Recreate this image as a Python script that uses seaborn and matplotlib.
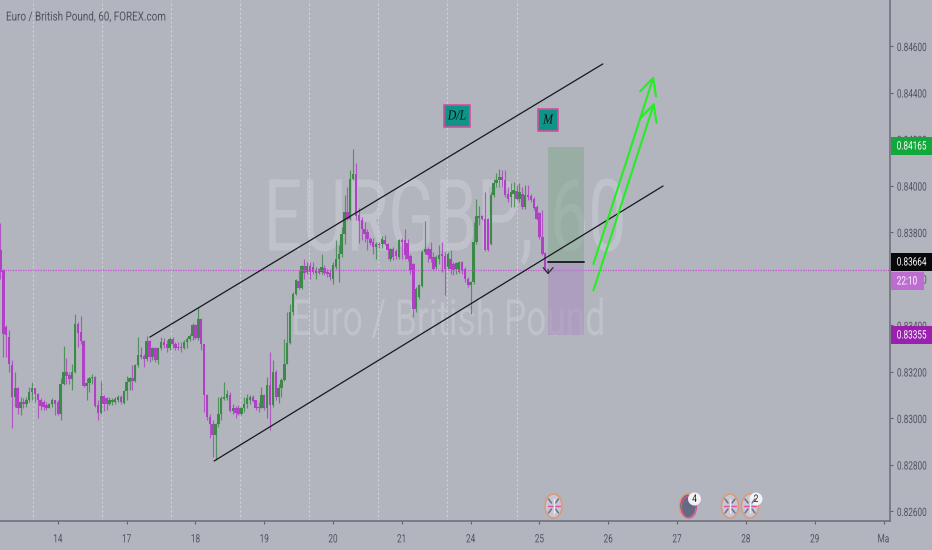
import numpy as np
import pandas as pd
import matplotlib
matplotlib.use('Agg')
import matplotlib.pyplot as plt
from matplotlib.patches import Ellipse, Rectangle, Circle
from matplotlib.patheffects import AbstractPathEffect
from matplotlib.transforms import Affine2D
import seaborn as sns

# hourly bars, prices in points (1e-5)
opens = [83722,83636,83392,83349,83227,83091,83127,83041,83069,83059,
         83077,83112,83127,83105,83077,83069,83055,83045,83059,83077,
         83069,83019,83145,83199,83184,83166,83199,83406,83371,83332,
         83137,83151,83170,83177,83055,83022,83094,83084,83062,83069,
         83069,83079,83091,83065,83117,83155,83170,83160,83227,83270,
         83266,83252,83330,83263,83299,83249,83302,83328,83320,83299,
         83338,83320,83306,83306,83299,83328,83338,83352,83399,83342,
         83425,83318,83098,83005,82976,82926,82976,83019,83081,83084,
         83098,83031,83045,83041,83019,83041,83062,83077,83091,83077,
         83048,83045,83098,83045,83141,83055,83199,83091,83127,83163,
         83234,83323,83457,83535,83590,83561,83653,83629,83653,83650,
         83624,83639,83629,83647,83629,83624,83600,83650,83686,83705,
         83793,83887,83854,84030,84049,83872,83851,83815,83801,83772,
         83758,83736,83750,83748,83765,83750,83682,83725,83719,83693,
         83765,83765,83753,83696,83664,83467,83521,83567,83715,83729,
         83725,83693,83650,83686,83705,83696,83650,83686,83664,83639,
         83629,83672,83643,83600,83571,83586,83758,83862,83868,83858,
         83858,83750,83958,84009,84023,84037,84023,83965,83951,83965,
         83977,83944,83965,83908,83958,83954,83944,83908,83880,83779,83710]
highs = [83839,83643,83399,83378,83249,83199,83134,83091,83084,83091,
         83134,83155,83131,83108,83084,83077,83069,83065,83084,83079,
         83077,83170,83309,83260,83199,83231,83447,83414,83438,83335,
         83170,83177,83188,83180,83077,83158,83098,83091,83091,83084,
         83091,83098,83098,83120,83180,83177,83227,83234,83349,83306,
         83277,83352,83335,83306,83306,83306,83349,83346,83335,83349,
         83349,83328,83328,83328,83335,83349,83363,83409,83404,83478,
         83432,83320,83105,83019,82991,82979,83091,83094,83155,83120,
         83112,83062,83051,83055,83048,83091,83105,83098,83098,83079,
         83069,83134,83105,83177,83285,83249,83206,83148,83170,83338,
         83457,83492,83543,83596,83636,83657,83682,83672,83672,83672,
         83650,83647,83707,83657,83643,83643,83672,83765,83743,83822,
         83958,83994,84066,84159,84097,83905,83865,83844,83815,83779,
         83776,83758,83758,83782,83786,83753,83733,83736,83729,83772,
         83776,83812,83772,83705,83667,83564,83578,83722,83848,83736,
         83758,83715,83700,83743,83758,83715,83715,83722,83672,83672,
         83674,83674,83650,83607,83590,83844,83940,83911,83872,83973,
         83862,83973,84030,84052,84073,84066,84066,83994,84009,84016,
         84001,84011,83994,84001,84001,83965,83951,83915,83887,83894,83715]
lows = [83600,83263,83263,83199,82955,83048,83019,83012,83041,83048,
        83069,83077,83069,83002,83034,83036,83036,83041,83048,83012,
        83012,82991,83141,83148,83145,83120,83194,83306,83320,83134,
        83077,83112,83148,83048,82991,83019,83031,83034,83055,83055,
        83062,83069,83059,83062,83079,83120,83120,83155,83220,83252,
        83220,83246,83242,83249,83242,83231,83292,83299,83285,83292,
        83299,83292,83292,83285,83295,83299,83332,83335,83338,83335,
        83292,83026,82991,82912,82833,82818,82962,82991,83077,83077,
        83026,83019,82998,83012,83012,83026,83041,83062,83069,83036,
        83026,83041,83036,82998,82948,83048,83077,83065,83091,83160,
        83231,83320,83442,83528,83553,83557,83600,83621,83600,83621,
        83600,83618,83618,83614,83607,83593,83576,83643,83586,83693,
        83750,83851,83851,84023,83851,83753,83765,83758,83722,83743,
        83707,83686,83733,83733,83743,83682,83676,83679,83686,83686,
        83682,83686,83676,83621,83435,83456,83514,83564,83707,83672,
        83672,83636,83643,83664,83629,83528,83643,83621,83614,83621,
        83624,83621,83586,83564,83446,83578,83750,83829,83851,83719,
        83719,83743,83951,83994,83994,83994,83951,83930,83908,83908,
        83937,83930,83901,83901,83937,83930,83894,83851,83772,83700,83633]
closes = [83629,83363,83356,83234,83091,83127,83041,83069,83059,83077,
          83112,83127,83105,83077,83051,83048,83045,83059,83077,83062,
          83019,83145,83199,83180,83166,83199,83406,83366,83332,83137,
          83151,83170,83177,83051,83022,83094,83062,83059,83079,83079,
          83081,83091,83069,83117,83155,83170,83160,83227,83270,83263,
          83252,83330,83263,83299,83249,83302,83328,83313,83299,83338,
          83318,83303,83303,83299,83328,83338,83352,83399,83342,83425,
          83318,83098,83005,82976,82926,82976,83019,83084,83091,83102,
          83031,83045,83022,83019,83041,83062,83088,83091,83074,83045,
          83041,83098,83045,83141,83055,83199,83091,83127,83163,83234,
          83323,83457,83535,83593,83561,83653,83624,83653,83629,83629,
          83636,83624,83650,83624,83618,83607,83657,83686,83707,83793,
          83887,83854,84030,84049,83868,83848,83811,83793,83768,83753,
          83736,83750,83743,83768,83748,83722,83725,83693,83696,83765,
          83758,83700,83686,83636,83467,83557,83571,83715,83729,83700,
          83686,83643,83693,83700,83696,83643,83707,83643,83636,83667,
          83672,83636,83600,83571,83586,83758,83868,83868,83858,83722,
          83722,83958,84009,84023,84037,84023,83958,83944,83973,83980,
          83944,83973,83908,83958,83951,83937,83905,83858,83779,83707,83636]

day_labels = ['14', '17', '18', '19', '20', '21', '24', '25', '26', '27', '28', '29', 'Ma']
day_bars = [20, 44, 68, 92, 116, 140, 164, 188, 212, 236, 260, 284, 308]
session_bars = [11.5, 35.5, 59.5, 83.5, 107.5, 131.5, 155.7, 180]
price_ticks = [0.846, 0.844, 0.842, 0.84, 0.838, 0.836, 0.834, 0.832, 0.83, 0.828, 0.826]

upper_x, upper_y = [52.1, 210.1], [0.83348, 0.84523]
lower_x, lower_y = [74.5, 231.1], [0.82815, 0.83998]
arrow_a_x, arrow_a_y = [206.8, 227.9], [0.83662, 0.84472]
arrow_b_x, arrow_b_y = [206.8, 228.1], [0.83548, 0.84358]
last_price = 0.83637
entry_price, target_price, stop_price = 0.83671, 0.84165, 0.83355
zone_x = [190.9, 203.6]

BG = '#b2b5be'
GREEN = '#3c8a48'
PURPLE = '#b040c4'
TEXT = '#50535e'
NARROW = 0.71


class Squeeze(AbstractPathEffect):
    # the tagged font is much narrower than anything installed
    def __init__(self, sx, anchor=0.5):
        super().__init__()
        self.sx = sx
        self.anchor = anchor

    def draw_path(self, renderer, gc, tpath, affine, rgbFace=None):
        mid = tpath.get_extents().x1 * self.anchor
        squeeze = Affine2D().translate(-mid, 0).scale(self.sx, 1).translate(mid, 0)
        renderer.draw_path(gc, tpath, squeeze + affine, rgbFace)


sns.set_theme(style='white', rc={'axes.facecolor': BG, 'figure.facecolor': BG})
plt.rcParams['font.family'] = ['Roboto', 'DejaVu Sans']

df = pd.DataFrame({'bar': np.arange(len(opens)), 'open': opens, 'high': highs,
                   'low': lows, 'close': closes})
df[['open', 'high', 'low', 'close']] = df[['open', 'high', 'low', 'close']] / 1e5
df['body'] = (df['close'] - df['open']).abs().clip(lower=0.00002)
df['bottom'] = df[['open', 'close']].min(axis=1)
up = df[df['close'] >= df['open']]
down = df[df['close'] < df['open']]

fig = plt.figure(figsize=(9.32, 5.5), dpi=100)
ax = fig.add_axes([0, 29 / 550, 890 / 932, 521 / 550])

ax.text(446 / 890, 1 - 223 / 521, 'EURGBP, 60', transform=ax.transAxes, ha='center', va='center',
        fontsize=72, color='#bfc2ca', zorder=0.5, path_effects=[Squeeze(0.68)])
ax.text(449 / 890, 1 - 321 / 521, 'Euro / British Pound', transform=ax.transAxes, ha='center', va='center',
        fontsize=36, color='#bfc2ca', zorder=0.5, path_effects=[Squeeze(0.706)])

for b in session_bars:
    ax.axvline(b, color='#cfd1d8', lw=0.8, ls=(0, (2, 2)), zorder=1)

for part, col in [(up, GREEN), (down, PURPLE)]:
    ax.vlines(part['bar'], part['low'], part['high'], color=col, lw=0.85, alpha=0.8, zorder=3)
    sns.barplot(x=part['bar'].to_numpy(), y=part['body'].to_numpy(), bottom=part['bottom'].to_numpy(),
                native_scale=True, width=0.85, color=col, saturation=1, errorbar=None,
                linewidth=0, ax=ax, zorder=4)

ax.axhline(last_price, color='#c94fd8', lw=0.9, ls=(0, (1, 1)), zorder=5)

ax.add_patch(Rectangle((zone_x[0], entry_price), zone_x[1] - zone_x[0], target_price - entry_price,
                       color='#7fa88e', alpha=0.5, lw=0, zorder=5))
ax.add_patch(Rectangle((zone_x[0], stop_price), zone_x[1] - zone_x[0], entry_price - stop_price,
                       color='#a98abf', alpha=0.55, lw=0, zorder=5))
sns.lineplot(x=zone_x, y=[entry_price, entry_price], color='#16171a', lw=1.3, ax=ax, zorder=6)

for xs, ys in [(upper_x, upper_y), (lower_x, lower_y)]:
    sns.lineplot(x=xs, y=ys, color='#17181c', lw=0.9, estimator=None, ax=ax, zorder=6)
for xs, ys in [(arrow_a_x, arrow_a_y), (arrow_b_x, arrow_b_y)]:
    ax.annotate('', xy=(xs[1], ys[1]), xytext=(xs[0], ys[0]), zorder=7,
                arrowprops=dict(arrowstyle='->,head_length=1.0,head_width=0.5', color='#22ee22', lw=1.5,
                                shrinkA=0, shrinkB=0))
ax.annotate('', xy=(191, 0.83618), xytext=(191, 0.83640), zorder=7,
            arrowprops=dict(arrowstyle='->,head_length=0.35,head_width=0.3', color='#222', lw=0.8,
                            shrinkA=0, shrinkB=0))

ax.set_xlim(-0.174, 310.26)
ax.set_ylim(0.82557, 0.84798)
ax.grid(False)
ax.set_xlabel('')
ax.set_ylabel('')
ax.set_xticks(day_bars)
ax.set_xticklabels(day_labels, fontsize=8.3, color=TEXT)
ax.yaxis.tick_right()
ax.set_yticks(price_ticks)
ax.set_yticklabels([f'{t:.5f}' for t in price_ticks], fontsize=8.3, color=TEXT, ha='center')
ax.tick_params(axis='x', length=2.2, width=0.8, color='#60636e', pad=6, bottom=True)
ax.tick_params(axis='y', length=2.2, width=0.8, color='#60636e', pad=13.5, right=True)
for lab in ax.get_xticklabels() + ax.get_yticklabels():
    lab.set_path_effects([Squeeze(NARROW)])
for side in ['top', 'left']:
    ax.spines[side].set_visible(False)
for side in ['right', 'bottom']:
    ax.spines[side].set_color('#6f727d')
    ax.spines[side].set_linewidth(1.2)

# pixel overlay for title, price tags, badges and event icons
over = fig.add_axes([0, 0, 1, 1], facecolor='none')
over.set_xlim(0, 932)
over.set_ylim(550, 0)
over.axis('off')

over.text(6, 17, 'Euro / British Pound, 60, FOREX.com', ha='left', va='center', fontsize=9, color=TEXT,
          path_effects=[Squeeze(0.79, anchor=0)])

tags = [(146, 42, '#12a83c', '0.84165', 911.5), (262, 42, '#08080a', '0.83664', 911.5),
        (281, 33, '#bd6ccf', '22:10', 907), (335, 42, '#9a20ae', '0.83355', 911.5)]
for yc, w, col, label, xc in tags:
    over.add_patch(Rectangle((890.5, yc - 9), w, 18, color=col, lw=0))
    over.text(xc, yc, label, ha='center', va='center', fontsize=8.3, color='white',
              path_effects=[Squeeze(NARROW)])

for x0, y0, w, h, label in [(444, 105, 26, 22, 'D/L'), (538, 109, 20, 22, 'M')]:
    over.add_patch(Rectangle((x0, y0), w, h, facecolor='#0f9488', edgecolor='#d24f9e', lw=1.2))
    over.text(x0 + w / 2, y0 + h / 2, label, ha='center', va='center', fontsize=10, style='italic',
              family='Liberation Serif', color='#101014', path_effects=[Squeeze(0.85)])

for x0 in [553.5, 730, 750]:
    over.add_patch(Ellipse((x0, 506), 17, 24, facecolor='#c6c7d0', edgecolor='#e0966e', lw=1))
    for dx, dy in [(-1, -1), (1, -1), (-1, 1), (1, 1)]:
        over.plot([x0 + dx * 2, x0 + dx * 5], [506 + dy * 3, 506 + dy * 7], color='#6d7090', lw=1.1)
    over.plot([x0 - 6, x0 + 6], [506, 506], color='#e04fa8', lw=1)
    over.plot([x0, x0], [499, 513], color='#eeeef2', lw=1)
over.add_patch(Ellipse((688, 506), 17, 24, facecolor='#666a80', edgecolor='#e0966e', lw=1))
over.add_patch(Ellipse((689, 507), 15, 22, facecolor='none', edgecolor='#d94fa0', lw=0.8))
for x0, label in [(694.5, '4'), (756, '2')]:
    over.add_patch(Circle((x0, 499), 6.5, color='#f2f2f4', lw=0))
    over.text(x0, 499, label, ha='center', va='center', fontsize=7.5, color='#222',
              path_effects=[Squeeze(0.8)])

fig.savefig('out.png', dpi=100, facecolor=BG)
